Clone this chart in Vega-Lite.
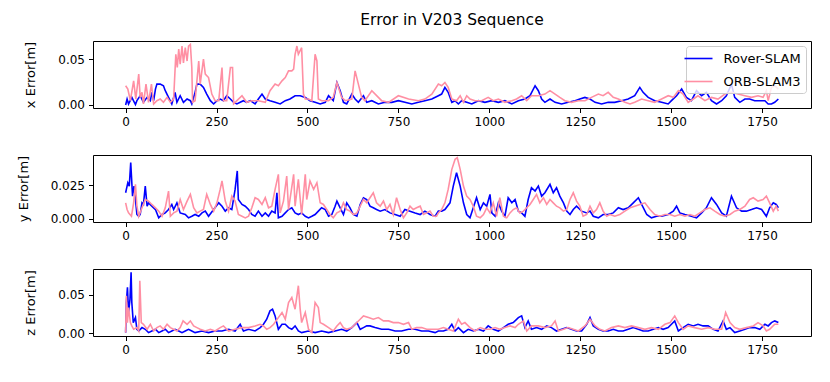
{
"$schema": "https://vega.github.io/schema/vega-lite/v6.json",
"background": "white",
"padding": {"left": 16, "top": 12, "right": 15, "bottom": 5},
"bounds": "flush",
"spacing": 47,
"config": {
  "font": "DejaVu Sans",
  "view": {"stroke": "black", "strokeWidth": 1},
  "axis": {"domain": false, "grid": false, "ticks": true, "tickColor": "black", "tickSize": 4.5, "tickWidth": 1, "labelPadding": 4, "labelFont": "DejaVu Sans", "labelFontSize": 12, "labelColor": "black", "titleFont": "DejaVu Sans", "titleFontSize": 13, "titleFontWeight": "normal", "titleColor": "black", "titlePadding": 20},
  "legend": {"orient": "top-right", "offset": 5, "padding": 4.5, "fillColor": "rgba(255,255,255,0.8)", "strokeColor": "#cccccc", "cornerRadius": 3, "symbolType": "M-2,0H2", "symbolSize": 196, "symbolStrokeWidth": 1.6, "labelFont": "DejaVu Sans", "labelFontSize": 13, "labelColor": "black", "labelOffset": 17, "rowPadding": 8, "title": null, "zindex": 1},
  "title": {"font": "DejaVu Sans", "fontSize": 15.5, "fontWeight": "normal", "color": "black", "anchor": "middle", "frame": "group", "offset": 13}
},
"resolve": {"scale": {"color": "independent", "x": "independent", "y": "independent"}, "legend": {"color": "independent"}},
"datasets": {
"x_rover": [{"frame":0,"error":0},{"frame":4,"error":0.0065},{"frame":8,"error":0.0011},{"frame":17,"error":0.0083},{"frame":27,"error":0.0004},{"frame":31,"error":0.0047},{"frame":40,"error":0.0101},{"frame":49,"error":0.0029},{"frame":59,"error":0.0083},{"frame":68,"error":0.0047},{"frame":72,"error":0.0138},{"frame":77,"error":0.0047},{"frame":82,"error":0.0174},{"frame":86,"error":0.0228},{"frame":95,"error":0.0228},{"frame":104,"error":0.021},{"frame":109,"error":0.0156},{"frame":118,"error":0.0083},{"frame":127,"error":0.0011},{"frame":136,"error":0.0138},{"frame":141,"error":0.0029},{"frame":150,"error":0.0101},{"frame":159,"error":0.0029},{"frame":169,"error":0.0065},{"frame":178,"error":0.0047},{"frame":182,"error":0.0011},{"frame":191,"error":0.0138},{"frame":196,"error":0.0228},{"frame":205,"error":0.0228},{"frame":214,"error":0.0192},{"frame":223,"error":0.0119},{"frame":233,"error":0.0047},{"frame":242,"error":0.0011},{"frame":251,"error":0.0047},{"frame":260,"error":0.0065},{"frame":269,"error":0.0047},{"frame":278,"error":0.0101},{"frame":288,"error":0.0065},{"frame":297,"error":0.0029},{"frame":306,"error":0.0011},{"frame":315,"error":0.0029},{"frame":324,"error":0.0047},{"frame":333,"error":0.0029},{"frame":343,"error":0.0047},{"frame":356,"error":0.0011},{"frame":365,"error":0.0065},{"frame":375,"error":0.0119},{"frame":384,"error":0.0065},{"frame":397,"error":0.0047},{"frame":411,"error":0.0029},{"frame":425,"error":0.0011},{"frame":439,"error":0.0047},{"frame":452,"error":0.0065},{"frame":466,"error":0.0101},{"frame":480,"error":0.0101},{"frame":494,"error":0.0083},{"frame":507,"error":0.0047},{"frame":521,"error":0.0029},{"frame":535,"error":0.0011},{"frame":549,"error":0.0029},{"frame":558,"error":0.0101},{"frame":571,"error":0.0047},{"frame":581,"error":0.0246},{"frame":590,"error":0.0156},{"frame":599,"error":0.0029},{"frame":608,"error":0.0011},{"frame":622,"error":0.0119},{"frame":631,"error":0.0065},{"frame":640,"error":0.0029},{"frame":654,"error":0.0101},{"frame":663,"error":0.0029},{"frame":677,"error":0.0047},{"frame":695,"error":0.0011},{"frame":713,"error":0.0029},{"frame":732,"error":0.0029},{"frame":750,"error":0.0047},{"frame":768,"error":0.0029},{"frame":787,"error":0.0011},{"frame":805,"error":0.0029},{"frame":823,"error":0.0047},{"frame":842,"error":0.0065},{"frame":860,"error":0.0101},{"frame":869,"error":0.0119},{"frame":878,"error":0.0192},{"frame":887,"error":0.0138},{"frame":897,"error":0.0029},{"frame":906,"error":0.0047},{"frame":915,"error":0.0011},{"frame":924,"error":0.0047},{"frame":938,"error":0.0029},{"frame":952,"error":0.0011},{"frame":970,"error":0.0047},{"frame":988,"error":0.0029},{"frame":1007,"error":0.0047},{"frame":1025,"error":0.0029},{"frame":1043,"error":0.0047},{"frame":1062,"error":0.0011},{"frame":1080,"error":0.0047},{"frame":1098,"error":0.0065},{"frame":1112,"error":0.0101},{"frame":1126,"error":0.021},{"frame":1135,"error":0.0156},{"frame":1144,"error":0.0065},{"frame":1153,"error":0.0029},{"frame":1167,"error":0.0065},{"frame":1181,"error":0.0029},{"frame":1199,"error":0.0011},{"frame":1217,"error":0.0029},{"frame":1236,"error":0.0047},{"frame":1249,"error":0.0065},{"frame":1263,"error":0.0083},{"frame":1277,"error":0.0065},{"frame":1291,"error":0.0029},{"frame":1309,"error":0.0011},{"frame":1327,"error":0.0029},{"frame":1345,"error":0.0029},{"frame":1364,"error":0.0047},{"frame":1382,"error":0.0065},{"frame":1400,"error":0.0101},{"frame":1414,"error":0.0192},{"frame":1423,"error":0.0138},{"frame":1437,"error":0.0083},{"frame":1455,"error":0.0047},{"frame":1474,"error":0.0029},{"frame":1492,"error":0.0011},{"frame":1501,"error":0.0047},{"frame":1515,"error":0.0101},{"frame":1529,"error":0.0174},{"frame":1542,"error":0.0083},{"frame":1556,"error":0.0047},{"frame":1570,"error":0.0156},{"frame":1584,"error":0.0101},{"frame":1597,"error":0.0138},{"frame":1611,"error":0.0047},{"frame":1625,"error":0.0011},{"frame":1639,"error":0.0047},{"frame":1652,"error":0.0101},{"frame":1666,"error":0.0228},{"frame":1675,"error":0.0083},{"frame":1689,"error":0.0029},{"frame":1703,"error":0.0065},{"frame":1716,"error":0.0065},{"frame":1730,"error":0.0047},{"frame":1744,"error":0.0047},{"frame":1758,"error":0.0047},{"frame":1767,"error":0.0011},{"frame":1776,"error":0.0011},{"frame":1785,"error":0.0029},{"frame":1795,"error":0.0065}],
"x_orb": [{"frame":0,"error":0.021},{"frame":6,"error":0.0174},{"frame":13,"error":0.0047},{"frame":22,"error":0.0264},{"frame":28,"error":0.0065},{"frame":36,"error":0.0337},{"frame":40,"error":0.0083},{"frame":45,"error":0.0138},{"frame":49,"error":0.0011},{"frame":56,"error":0.0228},{"frame":63,"error":0.0029},{"frame":71,"error":0.0228},{"frame":77,"error":0.0011},{"frame":86,"error":0.0047},{"frame":95,"error":0.0065},{"frame":104,"error":0.0029},{"frame":114,"error":0.0083},{"frame":123,"error":0.0029},{"frame":132,"error":0.0065},{"frame":138,"error":0.0554},{"frame":142,"error":0.041},{"frame":146,"error":0.061},{"frame":150,"error":0.0445},{"frame":155,"error":0.0644},{"frame":159,"error":0.046},{"frame":164,"error":0.0626},{"frame":169,"error":0.048},{"frame":173,"error":0.0644},{"frame":178,"error":0.0662},{"frame":182,"error":0.041},{"frame":184,"error":0.0029},{"frame":191,"error":0.0047},{"frame":201,"error":0.0481},{"frame":205,"error":0.0228},{"frame":214,"error":0.05},{"frame":219,"error":0.0337},{"frame":228,"error":0.03},{"frame":237,"error":0.0119},{"frame":246,"error":0.0047},{"frame":256,"error":0.0047},{"frame":265,"error":0.0409},{"frame":269,"error":0.0047},{"frame":278,"error":0.0047},{"frame":288,"error":0.0409},{"frame":294,"error":0.0409},{"frame":297,"error":0.0011},{"frame":306,"error":0.0047},{"frame":320,"error":0.0101},{"frame":333,"error":0.0029},{"frame":347,"error":0.0047},{"frame":365,"error":0.0047},{"frame":384,"error":0.0029},{"frame":397,"error":0.0156},{"frame":411,"error":0.0228},{"frame":420,"error":0.021},{"frame":430,"error":0.0264},{"frame":439,"error":0.03},{"frame":448,"error":0.0373},{"frame":457,"error":0.0373},{"frame":462,"error":0.0391},{"frame":466,"error":0.0554},{"frame":471,"error":0.0644},{"frame":475,"error":0.0554},{"frame":484,"error":0.0626},{"frame":489,"error":0.0119},{"frame":494,"error":0.0065},{"frame":503,"error":0.0065},{"frame":512,"error":0.0047},{"frame":521,"error":0.0554},{"frame":526,"error":0.0481},{"frame":530,"error":0.0065},{"frame":539,"error":0.0047},{"frame":558,"error":0.0047},{"frame":571,"error":0.0083},{"frame":581,"error":0.0246},{"frame":594,"error":0.0083},{"frame":604,"error":0.0047},{"frame":622,"error":0.0065},{"frame":631,"error":0.0373},{"frame":640,"error":0.0228},{"frame":649,"error":0.0083},{"frame":658,"error":0.0047},{"frame":677,"error":0.0156},{"frame":695,"error":0.0083},{"frame":704,"error":0.0047},{"frame":723,"error":0.0029},{"frame":750,"error":0.0101},{"frame":778,"error":0.0065},{"frame":805,"error":0.0047},{"frame":823,"error":0.0065},{"frame":842,"error":0.0119},{"frame":860,"error":0.0228},{"frame":869,"error":0.021},{"frame":878,"error":0.0246},{"frame":887,"error":0.0192},{"frame":897,"error":0.0065},{"frame":910,"error":0.0047},{"frame":920,"error":0.0101},{"frame":929,"error":0.0029},{"frame":938,"error":0.0101},{"frame":947,"error":0.0065},{"frame":961,"error":0.0047},{"frame":979,"error":0.0047},{"frame":997,"error":0.0083},{"frame":1011,"error":0.0047},{"frame":1025,"error":0.0065},{"frame":1043,"error":0.0029},{"frame":1062,"error":0.0047},{"frame":1075,"error":0.0065},{"frame":1089,"error":0.0101},{"frame":1103,"error":0.0047},{"frame":1116,"error":0.0101},{"frame":1135,"error":0.0101},{"frame":1153,"error":0.0119},{"frame":1167,"error":0.0156},{"frame":1181,"error":0.0119},{"frame":1194,"error":0.0083},{"frame":1208,"error":0.0047},{"frame":1226,"error":0.0029},{"frame":1245,"error":0.0047},{"frame":1263,"error":0.0047},{"frame":1281,"error":0.0083},{"frame":1300,"error":0.0119},{"frame":1313,"error":0.0101},{"frame":1327,"error":0.0138},{"frame":1341,"error":0.0083},{"frame":1355,"error":0.0065},{"frame":1373,"error":0.0029},{"frame":1387,"error":0.0011},{"frame":1400,"error":0.0029},{"frame":1419,"error":0.0065},{"frame":1437,"error":0.0047},{"frame":1455,"error":0.0029},{"frame":1474,"error":0.0065},{"frame":1492,"error":0.0101},{"frame":1506,"error":0.0083},{"frame":1520,"error":0.0156},{"frame":1533,"error":0.0119},{"frame":1547,"error":0.0029},{"frame":1561,"error":0.0065},{"frame":1574,"error":0.0101},{"frame":1593,"error":0.0047},{"frame":1611,"error":0.0083},{"frame":1629,"error":0.0065},{"frame":1648,"error":0.0119},{"frame":1666,"error":0.0138},{"frame":1684,"error":0.0119},{"frame":1703,"error":0.0101},{"frame":1721,"error":0.0083},{"frame":1739,"error":0.0101},{"frame":1753,"error":0.0083},{"frame":1762,"error":0.0156},{"frame":1767,"error":0.0047},{"frame":1776,"error":0.0192},{"frame":1785,"error":0.021},{"frame":1795,"error":0.0174}],
"y_rover": [{"frame":0,"error":0.0195},{"frame":2,"error":0.022},{"frame":6,"error":0.027},{"frame":10,"error":0.0245},{"frame":14,"error":0.042},{"frame":16,"error":0.032},{"frame":19,"error":0.017},{"frame":23,"error":0.0245},{"frame":27,"error":0.0145},{"frame":31,"error":0.0033},{"frame":36,"error":0.002},{"frame":40,"error":0.0033},{"frame":45,"error":0.012},{"frame":49,"error":0.0108},{"frame":54,"error":0.0245},{"frame":59,"error":0.0095},{"frame":63,"error":0.012},{"frame":72,"error":0.0095},{"frame":82,"error":0.007},{"frame":91,"error":0.0008},{"frame":100,"error":0.0033},{"frame":109,"error":0.0045},{"frame":118,"error":0.007},{"frame":127,"error":0.0108},{"frame":132,"error":0.007},{"frame":141,"error":0.012},{"frame":150,"error":0.0045},{"frame":164,"error":0.0033},{"frame":173,"error":0.0008},{"frame":182,"error":0.002},{"frame":191,"error":0.0033},{"frame":201,"error":0.002},{"frame":210,"error":0.0045},{"frame":219,"error":0.0058},{"frame":228,"error":0.002},{"frame":242,"error":0.007},{"frame":256,"error":0.012},{"frame":265,"error":0.0095},{"frame":274,"error":0.0058},{"frame":283,"error":0.0083},{"frame":292,"error":0.007},{"frame":301,"error":0.022},{"frame":307,"error":0.0358},{"frame":310,"error":0.0145},{"frame":320,"error":0.0108},{"frame":329,"error":0.0095},{"frame":338,"error":0.007},{"frame":347,"error":0.0033},{"frame":356,"error":0.002},{"frame":365,"error":0.0058},{"frame":375,"error":0.002},{"frame":384,"error":0.0045},{"frame":393,"error":0.002},{"frame":402,"error":0.0058},{"frame":411,"error":0.0045},{"frame":416,"error":0.0195},{"frame":420,"error":0.0008},{"frame":430,"error":0.002},{"frame":439,"error":0.0045},{"frame":448,"error":0.007},{"frame":457,"error":0.0083},{"frame":466,"error":0.0045},{"frame":475,"error":0.0033},{"frame":484,"error":0.0045},{"frame":494,"error":0.002},{"frame":503,"error":0.0008},{"frame":512,"error":0.002},{"frame":521,"error":0.0033},{"frame":530,"error":0.0058},{"frame":539,"error":0.0083},{"frame":549,"error":0.007},{"frame":558,"error":0.002},{"frame":567,"error":0.0033},{"frame":576,"error":0.0095},{"frame":581,"error":0.0133},{"frame":590,"error":0.0083},{"frame":599,"error":0.0033},{"frame":608,"error":0.012},{"frame":617,"error":0.0083},{"frame":626,"error":0.0033},{"frame":636,"error":0.002},{"frame":645,"error":0.0108},{"frame":654,"error":0.0158},{"frame":663,"error":0.0145},{"frame":672,"error":0.0095},{"frame":681,"error":0.0083},{"frame":690,"error":0.007},{"frame":700,"error":0.0058},{"frame":713,"error":0.007},{"frame":727,"error":0.0045},{"frame":741,"error":0.0033},{"frame":755,"error":0.002},{"frame":768,"error":0.007},{"frame":782,"error":0.0058},{"frame":796,"error":0.0045},{"frame":810,"error":0.0033},{"frame":823,"error":0.0058},{"frame":837,"error":0.0033},{"frame":851,"error":0.002},{"frame":860,"error":0.0058},{"frame":869,"error":0.0058},{"frame":878,"error":0.007},{"frame":892,"error":0.012},{"frame":901,"error":0.0245},{"frame":910,"error":0.0345},{"frame":920,"error":0.0245},{"frame":929,"error":0.012},{"frame":938,"error":0.0033},{"frame":947,"error":0.0008},{"frame":956,"error":0.0083},{"frame":965,"error":0.0158},{"frame":975,"error":0.007},{"frame":984,"error":0.012},{"frame":993,"error":0.0095},{"frame":1002,"error":0.0183},{"frame":1007,"error":0.0045},{"frame":1016,"error":0.002},{"frame":1025,"error":0.012},{"frame":1034,"error":0.0058},{"frame":1043,"error":0.002},{"frame":1052,"error":0.0158},{"frame":1062,"error":0.012},{"frame":1071,"error":0.0145},{"frame":1080,"error":0.0058},{"frame":1089,"error":0.0045},{"frame":1098,"error":0.002},{"frame":1107,"error":0.0145},{"frame":1116,"error":0.0233},{"frame":1126,"error":0.0208},{"frame":1135,"error":0.0245},{"frame":1144,"error":0.017},{"frame":1153,"error":0.0195},{"frame":1167,"error":0.0258},{"frame":1176,"error":0.0195},{"frame":1185,"error":0.0233},{"frame":1194,"error":0.017},{"frame":1204,"error":0.012},{"frame":1213,"error":0.0058},{"frame":1222,"error":0.0033},{"frame":1231,"error":0.007},{"frame":1240,"error":0.0095},{"frame":1254,"error":0.0058},{"frame":1268,"error":0.0045},{"frame":1277,"error":0.0058},{"frame":1286,"error":0.002},{"frame":1300,"error":0.0008},{"frame":1313,"error":0.0033},{"frame":1327,"error":0.0033},{"frame":1341,"error":0.0045},{"frame":1355,"error":0.0083},{"frame":1368,"error":0.007},{"frame":1382,"error":0.0083},{"frame":1396,"error":0.012},{"frame":1410,"error":0.0158},{"frame":1419,"error":0.0108},{"frame":1433,"error":0.0033},{"frame":1446,"error":0.0008},{"frame":1460,"error":0.002},{"frame":1474,"error":0.002},{"frame":1492,"error":0.0033},{"frame":1506,"error":0.0058},{"frame":1515,"error":0.0095},{"frame":1524,"error":0.0045},{"frame":1538,"error":0.0033},{"frame":1556,"error":0.002},{"frame":1570,"error":0.0008},{"frame":1584,"error":0.0045},{"frame":1597,"error":0.0083},{"frame":1611,"error":0.0158},{"frame":1625,"error":0.0108},{"frame":1639,"error":0.0045},{"frame":1652,"error":0.002},{"frame":1666,"error":0.017},{"frame":1680,"error":0.0083},{"frame":1694,"error":0.0058},{"frame":1707,"error":0.0058},{"frame":1721,"error":0.007},{"frame":1735,"error":0.0083},{"frame":1749,"error":0.007},{"frame":1762,"error":0.002},{"frame":1771,"error":0.0083},{"frame":1781,"error":0.012},{"frame":1789,"error":0.0108},{"frame":1795,"error":0.0083}],
"y_orb": [{"frame":0,"error":0.012},{"frame":4,"error":0.007},{"frame":8,"error":0.0045},{"frame":16,"error":0.002},{"frame":22,"error":0.012},{"frame":27,"error":0.0258},{"frame":31,"error":0.0095},{"frame":36,"error":0.002},{"frame":45,"error":0.0083},{"frame":54,"error":0.0145},{"frame":63,"error":0.0133},{"frame":72,"error":0.0108},{"frame":82,"error":0.0083},{"frame":91,"error":0.0058},{"frame":100,"error":0.002},{"frame":109,"error":0.0083},{"frame":118,"error":0.0208},{"frame":123,"error":0.002},{"frame":132,"error":0.0045},{"frame":141,"error":0.0058},{"frame":150,"error":0.0145},{"frame":159,"error":0.007},{"frame":169,"error":0.0133},{"frame":178,"error":0.0183},{"frame":187,"error":0.0083},{"frame":196,"error":0.0045},{"frame":205,"error":0.0058},{"frame":214,"error":0.007},{"frame":223,"error":0.0183},{"frame":233,"error":0.0108},{"frame":242,"error":0.0058},{"frame":251,"error":0.012},{"frame":260,"error":0.022},{"frame":265,"error":0.0283},{"frame":274,"error":0.0133},{"frame":283,"error":0.0058},{"frame":292,"error":0.017},{"frame":301,"error":0.0133},{"frame":310,"error":0.0033},{"frame":320,"error":0.002},{"frame":329,"error":0.0008},{"frame":338,"error":0.002},{"frame":347,"error":0.0083},{"frame":356,"error":0.0158},{"frame":365,"error":0.0145},{"frame":375,"error":0.0108},{"frame":384,"error":0.0158},{"frame":393,"error":0.0083},{"frame":402,"error":0.0095},{"frame":411,"error":0.022},{"frame":420,"error":0.0333},{"frame":425,"error":0.0045},{"frame":434,"error":0.0133},{"frame":443,"error":0.032},{"frame":448,"error":0.007},{"frame":452,"error":0.0145},{"frame":462,"error":0.0333},{"frame":466,"error":0.0095},{"frame":475,"error":0.0295},{"frame":484,"error":0.0033},{"frame":494,"error":0.0333},{"frame":498,"error":0.0145},{"frame":507,"error":0.0283},{"frame":517,"error":0.022},{"frame":526,"error":0.027},{"frame":535,"error":0.012},{"frame":544,"error":0.0108},{"frame":553,"error":0.007},{"frame":562,"error":0.0033},{"frame":571,"error":0.0008},{"frame":581,"error":0.0045},{"frame":590,"error":0.0058},{"frame":599,"error":0.012},{"frame":608,"error":0.007},{"frame":617,"error":0.0058},{"frame":626,"error":0.0033},{"frame":636,"error":0.0045},{"frame":645,"error":0.0095},{"frame":654,"error":0.0145},{"frame":663,"error":0.012},{"frame":672,"error":0.0158},{"frame":681,"error":0.0195},{"frame":690,"error":0.012},{"frame":700,"error":0.0095},{"frame":709,"error":0.0133},{"frame":718,"error":0.007},{"frame":727,"error":0.0108},{"frame":736,"error":0.0033},{"frame":745,"error":0.0158},{"frame":755,"error":0.007},{"frame":764,"error":0.0008},{"frame":773,"error":0.0045},{"frame":782,"error":0.0095},{"frame":791,"error":0.007},{"frame":800,"error":0.0083},{"frame":810,"error":0.0095},{"frame":819,"error":0.0033},{"frame":828,"error":0.0045},{"frame":837,"error":0.0058},{"frame":846,"error":0.002},{"frame":855,"error":0.002},{"frame":860,"error":0.0045},{"frame":869,"error":0.007},{"frame":878,"error":0.012},{"frame":887,"error":0.022},{"frame":897,"error":0.037},{"frame":906,"error":0.0445},{"frame":912,"error":0.0458},{"frame":920,"error":0.037},{"frame":929,"error":0.0245},{"frame":938,"error":0.017},{"frame":947,"error":0.0145},{"frame":956,"error":0.0095},{"frame":965,"error":0.002},{"frame":975,"error":0.0008},{"frame":984,"error":0.0033},{"frame":993,"error":0.0083},{"frame":1002,"error":0.0045},{"frame":1011,"error":0.012},{"frame":1020,"error":0.002},{"frame":1029,"error":0.0158},{"frame":1039,"error":0.002},{"frame":1048,"error":0.0008},{"frame":1057,"error":0.0045},{"frame":1066,"error":0.007},{"frame":1075,"error":0.0083},{"frame":1084,"error":0.0045},{"frame":1094,"error":0.0058},{"frame":1103,"error":0.0083},{"frame":1112,"error":0.0108},{"frame":1121,"error":0.0145},{"frame":1130,"error":0.0183},{"frame":1139,"error":0.012},{"frame":1149,"error":0.0158},{"frame":1158,"error":0.0108},{"frame":1167,"error":0.0145},{"frame":1176,"error":0.012},{"frame":1185,"error":0.0095},{"frame":1194,"error":0.0083},{"frame":1204,"error":0.0058},{"frame":1213,"error":0.007},{"frame":1222,"error":0.0145},{"frame":1231,"error":0.0195},{"frame":1240,"error":0.0133},{"frame":1249,"error":0.0095},{"frame":1258,"error":0.002},{"frame":1268,"error":0.0033},{"frame":1277,"error":0.0095},{"frame":1286,"error":0.0045},{"frame":1295,"error":0.007},{"frame":1304,"error":0.012},{"frame":1313,"error":0.0058},{"frame":1323,"error":0.002},{"frame":1332,"error":0.0033},{"frame":1345,"error":0.002},{"frame":1359,"error":0.0033},{"frame":1373,"error":0.0058},{"frame":1387,"error":0.0083},{"frame":1400,"error":0.0095},{"frame":1414,"error":0.0108},{"frame":1428,"error":0.012},{"frame":1442,"error":0.007},{"frame":1455,"error":0.0033},{"frame":1469,"error":0.002},{"frame":1483,"error":0.0033},{"frame":1497,"error":0.0033},{"frame":1510,"error":0.002},{"frame":1524,"error":0.0033},{"frame":1538,"error":0.002},{"frame":1552,"error":0.0033},{"frame":1565,"error":0.002},{"frame":1579,"error":0.0045},{"frame":1593,"error":0.007},{"frame":1607,"error":0.0083},{"frame":1620,"error":0.0058},{"frame":1634,"error":0.0033},{"frame":1648,"error":0.002},{"frame":1662,"error":0.0033},{"frame":1675,"error":0.0058},{"frame":1689,"error":0.007},{"frame":1703,"error":0.0095},{"frame":1716,"error":0.0145},{"frame":1726,"error":0.0158},{"frame":1739,"error":0.0133},{"frame":1753,"error":0.0145},{"frame":1762,"error":0.017},{"frame":1771,"error":0.012},{"frame":1781,"error":0.0058},{"frame":1789,"error":0.0095},{"frame":1795,"error":0.0058}],
"z_rover": [{"frame":0,"error":0.0009},{"frame":2,"error":0.04},{"frame":5,"error":0.0596},{"frame":8,"error":0.027},{"frame":12,"error":0.0444},{"frame":15,"error":0.0792},{"frame":17,"error":0.04},{"frame":21,"error":0.0139},{"frame":27,"error":0.0204},{"frame":31,"error":0.0052},{"frame":36,"error":0.003},{"frame":45,"error":0.0074},{"frame":54,"error":0.0052},{"frame":63,"error":0.0009},{"frame":72,"error":0.003},{"frame":82,"error":0.0052},{"frame":91,"error":0.0009},{"frame":100,"error":0.003},{"frame":109,"error":0.0052},{"frame":118,"error":0.0009},{"frame":127,"error":0.003},{"frame":136,"error":0.0052},{"frame":146,"error":0.003},{"frame":155,"error":0.0009},{"frame":164,"error":0.003},{"frame":173,"error":0.0052},{"frame":182,"error":0.003},{"frame":191,"error":0.0009},{"frame":210,"error":0.003},{"frame":228,"error":0.0009},{"frame":246,"error":0.003},{"frame":265,"error":0.003},{"frame":283,"error":0.0052},{"frame":301,"error":0.003},{"frame":315,"error":0.0117},{"frame":324,"error":0.003},{"frame":338,"error":0.0052},{"frame":356,"error":0.003},{"frame":370,"error":0.0074},{"frame":379,"error":0.0117},{"frame":388,"error":0.0183},{"frame":397,"error":0.0291},{"frame":404,"error":0.0313},{"frame":411,"error":0.0226},{"frame":420,"error":0.0052},{"frame":430,"error":0.0117},{"frame":439,"error":0.0117},{"frame":448,"error":0.0074},{"frame":457,"error":0.0052},{"frame":466,"error":0.0096},{"frame":475,"error":0.003},{"frame":484,"error":0.0009},{"frame":503,"error":0.003},{"frame":521,"error":0.0009},{"frame":539,"error":0.003},{"frame":558,"error":0.0009},{"frame":576,"error":0.003},{"frame":594,"error":0.0052},{"frame":608,"error":0.003},{"frame":622,"error":0.0074},{"frame":636,"error":0.0139},{"frame":645,"error":0.0052},{"frame":654,"error":0.0074},{"frame":663,"error":0.0096},{"frame":672,"error":0.0096},{"frame":686,"error":0.0074},{"frame":704,"error":0.0052},{"frame":723,"error":0.0052},{"frame":741,"error":0.003},{"frame":759,"error":0.003},{"frame":778,"error":0.0052},{"frame":796,"error":0.0052},{"frame":814,"error":0.003},{"frame":833,"error":0.003},{"frame":851,"error":0.0009},{"frame":860,"error":0.003},{"frame":874,"error":0.003},{"frame":887,"error":0.0052},{"frame":897,"error":0.0117},{"frame":906,"error":0.003},{"frame":915,"error":0.0074},{"frame":929,"error":0.0009},{"frame":942,"error":0.0052},{"frame":956,"error":0.003},{"frame":970,"error":0.0052},{"frame":984,"error":0.003},{"frame":997,"error":0.0096},{"frame":1011,"error":0.0052},{"frame":1025,"error":0.003},{"frame":1039,"error":0.0074},{"frame":1052,"error":0.0117},{"frame":1066,"error":0.0139},{"frame":1080,"error":0.0204},{"frame":1089,"error":0.0226},{"frame":1098,"error":0.0074},{"frame":1107,"error":0.0161},{"frame":1116,"error":0.0052},{"frame":1130,"error":0.0074},{"frame":1144,"error":0.0052},{"frame":1158,"error":0.0096},{"frame":1171,"error":0.0074},{"frame":1185,"error":0.003},{"frame":1199,"error":0.0052},{"frame":1213,"error":0.0074},{"frame":1226,"error":0.0052},{"frame":1240,"error":0.003},{"frame":1254,"error":0.003},{"frame":1268,"error":0.0117},{"frame":1277,"error":0.0204},{"frame":1286,"error":0.0096},{"frame":1300,"error":0.0052},{"frame":1313,"error":0.003},{"frame":1327,"error":0.003},{"frame":1341,"error":0.0052},{"frame":1355,"error":0.003},{"frame":1368,"error":0.003},{"frame":1382,"error":0.0052},{"frame":1396,"error":0.0074},{"frame":1410,"error":0.0052},{"frame":1423,"error":0.003},{"frame":1437,"error":0.003},{"frame":1451,"error":0.0052},{"frame":1465,"error":0.0074},{"frame":1478,"error":0.0052},{"frame":1492,"error":0.0074},{"frame":1501,"error":0.0117},{"frame":1510,"error":0.0161},{"frame":1520,"error":0.003},{"frame":1533,"error":0.0074},{"frame":1547,"error":0.0117},{"frame":1561,"error":0.0096},{"frame":1574,"error":0.0117},{"frame":1588,"error":0.0096},{"frame":1602,"error":0.0096},{"frame":1616,"error":0.0052},{"frame":1629,"error":0.003},{"frame":1643,"error":0.0161},{"frame":1652,"error":0.0052},{"frame":1662,"error":0.0074},{"frame":1675,"error":0.0009},{"frame":1689,"error":0.003},{"frame":1703,"error":0.0052},{"frame":1716,"error":0.0074},{"frame":1730,"error":0.0074},{"frame":1744,"error":0.0052},{"frame":1758,"error":0.0117},{"frame":1767,"error":0.0096},{"frame":1776,"error":0.0139},{"frame":1785,"error":0.0161},{"frame":1795,"error":0.0139}],
"z_orb": [{"frame":0,"error":0.0009},{"frame":2,"error":0.0487},{"frame":5,"error":0.0139},{"frame":8,"error":0.0335},{"frame":13,"error":0.0139},{"frame":17,"error":0.0096},{"frame":22,"error":0.0052},{"frame":31,"error":0.0074},{"frame":36,"error":0.003},{"frame":39,"error":0.0683},{"frame":43,"error":0.0139},{"frame":49,"error":0.0117},{"frame":59,"error":0.0052},{"frame":68,"error":0.0117},{"frame":77,"error":0.003},{"frame":86,"error":0.0074},{"frame":95,"error":0.0096},{"frame":104,"error":0.0052},{"frame":114,"error":0.0117},{"frame":123,"error":0.0074},{"frame":132,"error":0.0052},{"frame":141,"error":0.003},{"frame":150,"error":0.0074},{"frame":158,"error":0.0161},{"frame":169,"error":0.0117},{"frame":178,"error":0.0161},{"frame":187,"error":0.0096},{"frame":196,"error":0.0074},{"frame":205,"error":0.0052},{"frame":219,"error":0.003},{"frame":233,"error":0.0052},{"frame":246,"error":0.003},{"frame":260,"error":0.0074},{"frame":269,"error":0.0096},{"frame":283,"error":0.003},{"frame":301,"error":0.0052},{"frame":320,"error":0.0074},{"frame":338,"error":0.0074},{"frame":356,"error":0.0096},{"frame":370,"error":0.0117},{"frame":379,"error":0.0096},{"frame":388,"error":0.0052},{"frame":397,"error":0.0074},{"frame":407,"error":0.0117},{"frame":420,"error":0.0204},{"frame":430,"error":0.027},{"frame":439,"error":0.0183},{"frame":448,"error":0.04},{"frame":457,"error":0.0465},{"frame":466,"error":0.0313},{"frame":475,"error":0.0618},{"frame":480,"error":0.0313},{"frame":484,"error":0.0139},{"frame":494,"error":0.027},{"frame":503,"error":0.0052},{"frame":512,"error":0.0009},{"frame":521,"error":0.04},{"frame":530,"error":0.0335},{"frame":535,"error":0.0139},{"frame":544,"error":0.0117},{"frame":558,"error":0.0074},{"frame":571,"error":0.003},{"frame":581,"error":0.0096},{"frame":590,"error":0.0139},{"frame":599,"error":0.0074},{"frame":608,"error":0.0052},{"frame":622,"error":0.0074},{"frame":631,"error":0.0117},{"frame":645,"error":0.0183},{"frame":654,"error":0.0226},{"frame":668,"error":0.0204},{"frame":681,"error":0.0183},{"frame":695,"error":0.0204},{"frame":709,"error":0.0161},{"frame":723,"error":0.0161},{"frame":736,"error":0.0139},{"frame":750,"error":0.0139},{"frame":764,"error":0.0117},{"frame":778,"error":0.0139},{"frame":787,"error":0.0052},{"frame":800,"error":0.0074},{"frame":814,"error":0.0074},{"frame":828,"error":0.0052},{"frame":842,"error":0.0052},{"frame":860,"error":0.0052},{"frame":874,"error":0.0074},{"frame":887,"error":0.0052},{"frame":901,"error":0.003},{"frame":915,"error":0.0183},{"frame":924,"error":0.0117},{"frame":933,"error":0.0139},{"frame":947,"error":0.0074},{"frame":961,"error":0.003},{"frame":975,"error":0.0074},{"frame":988,"error":0.0052},{"frame":1002,"error":0.0052},{"frame":1016,"error":0.0074},{"frame":1029,"error":0.0052},{"frame":1043,"error":0.0074},{"frame":1057,"error":0.0096},{"frame":1071,"error":0.0074},{"frame":1080,"error":0.0117},{"frame":1094,"error":0.0161},{"frame":1103,"error":0.003},{"frame":1116,"error":0.0096},{"frame":1135,"error":0.0096},{"frame":1153,"error":0.0074},{"frame":1171,"error":0.0096},{"frame":1181,"error":0.0161},{"frame":1190,"error":0.003},{"frame":1204,"error":0.0052},{"frame":1217,"error":0.0074},{"frame":1231,"error":0.0052},{"frame":1245,"error":0.003},{"frame":1263,"error":0.0096},{"frame":1277,"error":0.0183},{"frame":1291,"error":0.0096},{"frame":1304,"error":0.0052},{"frame":1318,"error":0.003},{"frame":1336,"error":0.0074},{"frame":1355,"error":0.0096},{"frame":1373,"error":0.0074},{"frame":1391,"error":0.0096},{"frame":1410,"error":0.0074},{"frame":1428,"error":0.0052},{"frame":1446,"error":0.0074},{"frame":1465,"error":0.0052},{"frame":1483,"error":0.0117},{"frame":1497,"error":0.0139},{"frame":1510,"error":0.0226},{"frame":1520,"error":0.0139},{"frame":1533,"error":0.0052},{"frame":1547,"error":0.0096},{"frame":1565,"error":0.0074},{"frame":1584,"error":0.0052},{"frame":1602,"error":0.0074},{"frame":1620,"error":0.0052},{"frame":1639,"error":0.0052},{"frame":1650,"error":0.027},{"frame":1662,"error":0.0139},{"frame":1675,"error":0.0074},{"frame":1689,"error":0.0052},{"frame":1707,"error":0.0074},{"frame":1726,"error":0.0096},{"frame":1739,"error":0.0139},{"frame":1753,"error":0.0096},{"frame":1762,"error":0.003},{"frame":1771,"error":0.0052},{"frame":1785,"error":0.0117},{"frame":1795,"error":0.0117}]
},
"vconcat": [
{
  "width": 718, "height": 67,
  "title": {"text": "Error in V203 Sequence"},
  "layer": [
    {"data": {"name": "x_rover"}, "mark": {"type": "line", "strokeWidth": 1.6},
     "encoding": {
       "x": {"field": "frame", "type": "quantitative", "scale": {"domain": [-89.75, 1884.75], "nice": false, "zero": false}, "axis": {"values": [0,250,500,750,1000,1250,1500,1750], "format": "d", "title": null, "labelFlush": false}},
       "y": {"field": "error", "type": "quantitative", "scale": {"domain": [-0.0033, 0.0699], "nice": false, "zero": false}, "axis": {"values": [0, 0.05], "format": ".2f", "title": "x Error[m]"}},
       "color": {"datum": "Rover-SLAM", "type": "nominal", "scale": {"domain": ["Rover-SLAM", "ORB-SLAM3"], "range": ["#0000ff", "#ff8fa3"]}, "legend": {"orient": "top-right"}}
     }},
    {"data": {"name": "x_orb"}, "mark": {"type": "line", "strokeWidth": 1.6},
     "encoding": {
       "x": {"field": "frame", "type": "quantitative"},
       "y": {"field": "error", "type": "quantitative"},
       "color": {"datum": "ORB-SLAM3", "type": "nominal"}
     }}
  ]
},
{
  "width": 718, "height": 67,
  "layer": [
    {"data": {"name": "y_rover"}, "mark": {"type": "line", "strokeWidth": 1.6},
     "encoding": {
       "x": {"field": "frame", "type": "quantitative", "scale": {"domain": [-89.75, 1884.75], "nice": false, "zero": false}, "axis": {"values": [0,250,500,750,1000,1250,1500,1750], "format": "d", "title": null, "labelFlush": false}},
       "y": {"field": "error", "type": "quantitative", "scale": {"domain": [-0.0023, 0.0477], "nice": false, "zero": false}, "axis": {"values": [0, 0.025], "format": ".3f", "title": "y Error[m]"}},
       "color": {"datum": "Rover-SLAM", "type": "nominal", "scale": {"domain": ["Rover-SLAM", "ORB-SLAM3"], "range": ["#0000ff", "#ff8fa3"]}, "legend": null}
     }},
    {"data": {"name": "y_orb"}, "mark": {"type": "line", "strokeWidth": 1.6},
     "encoding": {
       "x": {"field": "frame", "type": "quantitative"},
       "y": {"field": "error", "type": "quantitative"},
       "color": {"datum": "ORB-SLAM3", "type": "nominal", "legend": null}
     }}
  ]
},
{
  "width": 718, "height": 67,
  "layer": [
    {"data": {"name": "z_rover"}, "mark": {"type": "line", "strokeWidth": 1.6},
     "encoding": {
       "x": {"field": "frame", "type": "quantitative", "scale": {"domain": [-89.75, 1884.75], "nice": false, "zero": false}, "axis": {"values": [0,250,500,750,1000,1250,1500,1750], "format": "d", "title": null, "labelFlush": false}},
       "y": {"field": "error", "type": "quantitative", "scale": {"domain": [-0.0035, 0.0835], "nice": false, "zero": false}, "axis": {"values": [0, 0.05], "format": ".2f", "title": "z Error[m]"}},
       "color": {"datum": "Rover-SLAM", "type": "nominal", "scale": {"domain": ["Rover-SLAM", "ORB-SLAM3"], "range": ["#0000ff", "#ff8fa3"]}, "legend": null}
     }},
    {"data": {"name": "z_orb"}, "mark": {"type": "line", "strokeWidth": 1.6},
     "encoding": {
       "x": {"field": "frame", "type": "quantitative"},
       "y": {"field": "error", "type": "quantitative"},
       "color": {"datum": "ORB-SLAM3", "type": "nominal", "legend": null}
     }}
  ]
}
]
}
